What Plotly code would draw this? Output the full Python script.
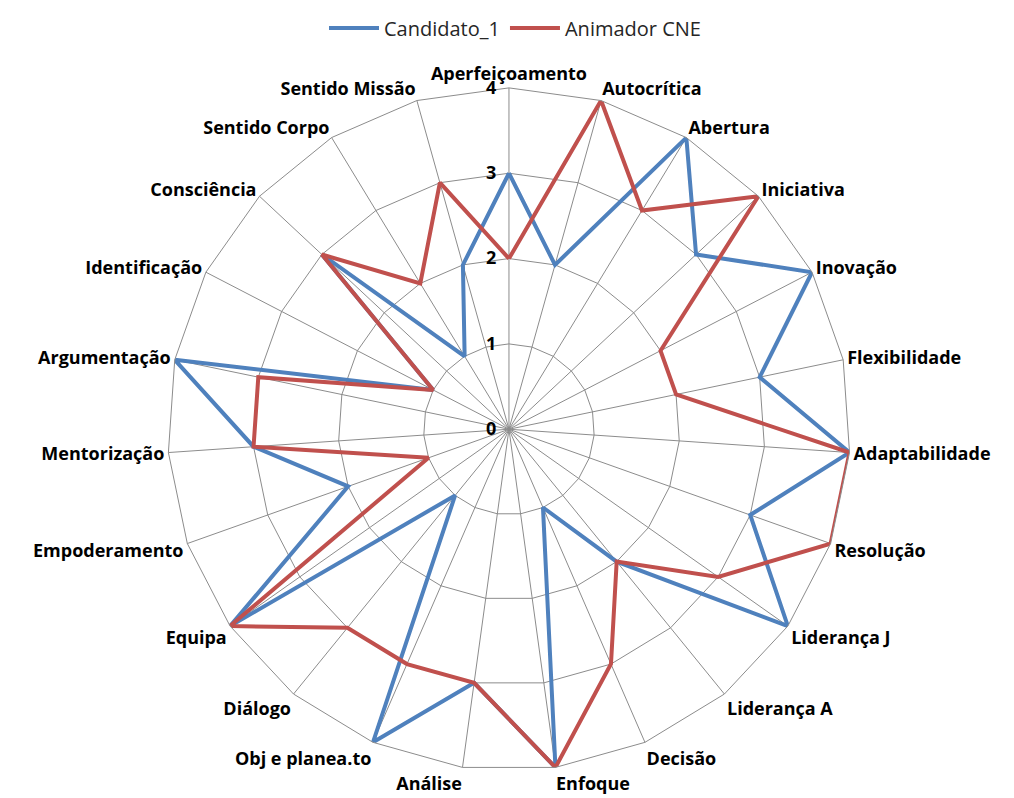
import plotly.graph_objects as go

categories = ["Aperfeiçoamento", "Autocrítica", "Abertura", "Iniciativa", "Inovação",
              "Flexibilidade", "Adaptabilidade", "Resolução", "Liderança J", "Liderança A",
              "Decisão", "Enfoque", "Análise", "Obj e planea.to", "Diálogo", "Equipa",
              "Empoderamento", "Mentorização", "Argumentação", "Identificação",
              "Consciência", "Sentido Corpo", "Sentido Missão"]
candidato_1 = [3, 2, 4, 3, 4, 3, 4, 3, 4, 2, 1, 4, 3, 4, 1, 4, 2, 3, 4, 1, 3, 1, 2]
animador_cne = [2, 4, 3, 4, 2, 2, 4, 4, 3, 2, 3, 4, 3, 3, 3, 4, 1, 3, 3, 1, 3, 2, 3]
radial_ticks = [0, 1, 2, 3, 4]

theta = categories + categories[:1]

fig = go.Figure()
fig.add_trace(go.Scatterpolar(r=candidato_1 + candidato_1[:1], theta=theta, mode="lines",
                              name="Candidato_1", line=dict(color="#4F81BD", width=4)))
fig.add_trace(go.Scatterpolar(r=animador_cne + animador_cne[:1], theta=theta, mode="lines",
                              name="Animador CNE", line=dict(color="#C0504D", width=4)))

fig.update_layout(
    width=1014, height=798,
    margin=dict(l=0, r=0, t=0, b=0),
    paper_bgcolor="white",
    font=dict(family="Open Sans, sans-serif", color="black"),
    showlegend=True,
    legend=dict(orientation="h", x=0.5, xanchor="center", y=1.016, yanchor="top",
                font=dict(size=20, color="#262626"), itemwidth=50),
    polar=dict(
        domain=dict(x=[0.1519, 0.8362], y=[0.0451, 0.9148]),
        bgcolor="white",
        gridshape="linear",
        angularaxis=dict(rotation=90, direction="clockwise", type="category",
                         categoryorder="array", categoryarray=categories,
                         showline=True, linecolor="#8c8c8c", linewidth=1,
                         gridcolor="#8c8c8c", gridwidth=1,
                         ticks="", tickfont=dict(size=18, weight="bold", color="black")),
        radialaxis=dict(range=[0, 4], angle=90, tickangle=90, side="counterclockwise",
                        tickvals=radial_ticks, ticktext=[str(v) + "  " for v in radial_ticks],
                        showline=False, gridcolor="#8c8c8c", gridwidth=1, ticks="",
                        tickfont=dict(size=18, weight="bold", color="black")),
    ),
)

fig.write_html("out.html")
